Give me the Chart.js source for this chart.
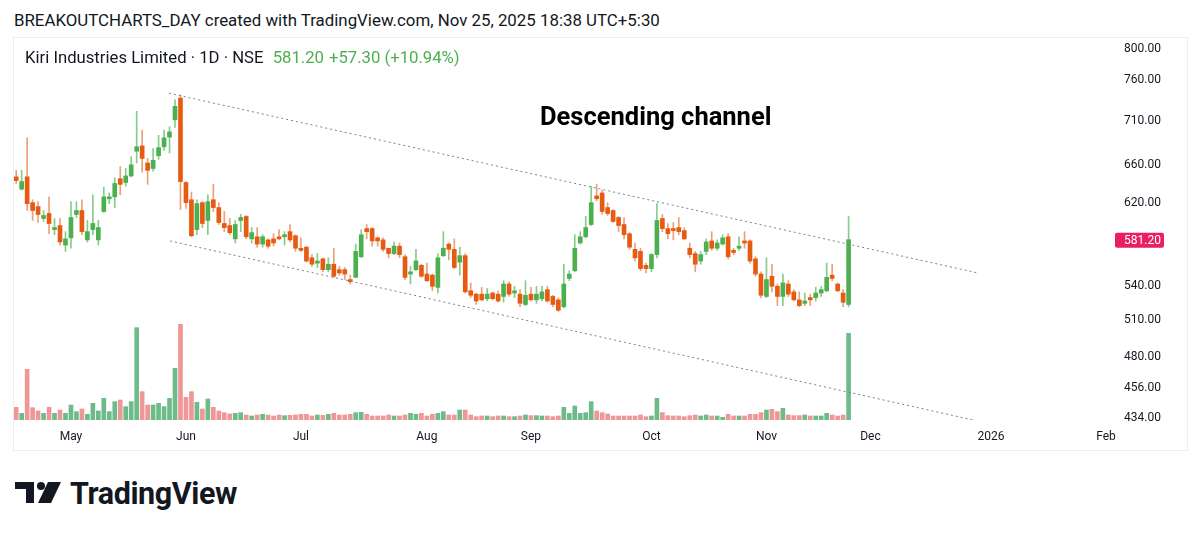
<!DOCTYPE html>
<html>
<head>
<meta charset="utf-8">
<script src="https://cdn.jsdelivr.net/npm/chart.js@4.4.0/dist/chart.umd.min.js"></script>
<style>
body { margin:0; width:1200px; height:535px; background:#fff; font-family:Roboto, sans-serif; color:#131722; overflow:hidden; position:relative; }
#head { position:absolute; left:14px; top:8px; font-size:16.85px; line-height:24px; white-space:nowrap; }
#frame { position:absolute; left:13px; top:37px; width:1175px; height:414px; border:1px solid #eceef2; box-sizing:border-box; }
#wrap { position:absolute; left:14px; top:38px; width:1173px; height:412px; }
#legend { position:absolute; left:25px; top:46px; font-size:16.7px; line-height:24px; white-space:nowrap; }
#legend .up { color:#4caf50; margin-left:5px; }
#note { position:absolute; left:540px; top:101px; font-size:25.5px; font-weight:bold; line-height:30px; color:#000; }
#logo { position:absolute; left:15px; top:480px; }
#logotext { position:absolute; left:70px; top:475px; font-size:30.5px; font-weight:bold; line-height:38px; color:#131722; letter-spacing:-0.4px; }
</style>
</head>
<body>
<div id="head">BREAKOUTCHARTS_DAY created with TradingView.com, Nov 25, 2025 18:38 UTC+5:30</div>
<div id="frame"></div>
<div id="wrap"><canvas id="chart" width="1173" height="412"></canvas></div>
<div id="legend">Kiri Industries Limited · 1D · NSE <span class="up">581.20</span><span class="up">+57.30 (+10.94%)</span></div>
<div id="note">Descending channel</div>
<svg id="logo" width="50" height="26" viewBox="0 0 50 26">
  <rect x="0" y="2" width="19" height="7" fill="#131722"/>
  <rect x="11" y="2" width="8" height="21" fill="#131722"/>
  <circle cx="26" cy="6" r="4" fill="#131722"/>
  <polygon points="33,2 46,2 36,23 23,23" fill="#131722"/>
</svg>
<div id="logotext">TradingView</div>
<script>
// daily candles, mid-April to 25 Nov 2025
var opens = [645,632,645,618,614,602,607,591,595,576,583,606,610,581,591,581,609,622,624,643,
  639,646,673,679,660,654,668,678,689,709,735,639,621,591,618,600,621,613,597,595,
  582,600,604,582,584,577,581,582,584,584,589,585,573,574,564,559,563,553,558,553,
  553,544,546,565,592,592,583,581,573,568,575,565,549,553,557,549,548,537,566,577,
  572,560,566,534,531,531,527,532,531,529,540,532,531,522,531,526,527,535,529,526,
  520,545,552,578,584,596,625,628,613,610,603,596,587,572,570,557,554,567,602,592,
  592,593,590,573,568,561,570,580,573,577,584,571,573,580,580,563,549,529,547,538,
  529,540,533,526,523,528,528,532,534,548,540,532,522];
var highs = [652,652,688,621,619,610,624,602,602,589,619,619,621,600,626,600,634,628,644,656,
  654,667,719,697,665,676,691,697,701,733,739,640,629,621,619,626,637,618,609,602,
  600,606,605,593,593,586,582,587,591,589,596,586,583,575,567,568,564,564,573,556,
  555,548,577,591,596,593,584,583,573,579,578,567,556,572,558,559,549,568,589,578,
  582,574,568,541,532,537,536,533,534,543,542,538,535,543,537,538,538,538,530,528,
  558,552,586,589,604,635,637,631,618,611,604,603,588,578,573,559,568,617,606,597,
  598,603,593,578,570,570,582,589,581,586,587,573,584,589,581,565,551,564,558,540,
  549,543,535,533,532,531,537,538,559,558,541,535,604];
var lows = [638,631,610,600,598,599,587,586,576,570,573,603,586,579,586,576,608,617,613,626,
  635,645,660,650,637,651,664,674,671,700,611,612,584,586,593,586,609,596,589,586,
  578,589,582,578,574,574,573,575,581,576,579,570,570,560,556,555,551,551,546,548,
  544,540,546,564,582,575,575,570,564,567,564,544,540,552,546,542,534,532,565,562,
  554,548,532,528,522,525,525,526,524,524,529,528,520,521,525,523,525,524,520,516,
  519,543,551,577,583,595,620,606,605,598,589,582,572,561,552,550,551,564,589,582,
  581,586,581,564,551,558,567,571,571,576,563,567,571,573,559,547,528,528,533,521,
  521,529,525,520,521,521,525,529,533,543,533,520,520];
var closes = [641,640,617,610,606,605,597,593,579,582,603,610,589,589,597,593,624,624,638,637,
  646,658,678,665,652,663,677,688,695,725,640,618,585,617,597,619,613,598,593,588,
  596,603,584,588,577,584,575,578,582,586,581,573,571,561,558,561,553,558,547,550,
  549,542,570,586,589,580,580,572,568,575,567,546,551,561,547,543,538,564,573,572,
  555,566,533,530,525,526,531,527,525,540,531,534,523,530,526,531,533,525,522,517,
  540,549,573,584,593,618,622,609,607,599,595,586,574,564,554,554,567,600,592,587,
  590,589,582,567,558,567,579,573,578,583,565,569,575,578,561,549,530,544,538,529,
  541,531,526,521,525,526,532,535,546,545,534,523.9,581.2];
// volume, thousands of shares
var volumes = [253,133,1013,247,180,133,253,133,200,133,300,167,220,113,333,180,433,167,367,400,
  267,367,1847,567,300,300,333,267,433,1033,1913,453,567,353,220,420,253,180,147,120,
  133,147,100,80,100,113,100,80,100,87,93,100,113,113,80,100,93,113,133,100,
  100,113,147,153,113,80,80,80,100,80,80,100,133,113,133,80,113,133,167,100,
  100,200,200,100,67,80,80,67,80,80,67,67,80,100,87,87,80,80,67,80,
  253,133,280,133,147,367,180,147,120,80,80,80,80,80,100,67,80,433,147,87,
  80,80,67,87,100,80,100,80,80,53,113,80,80,80,113,113,147,200,213,167,
  233,100,87,87,100,80,80,80,133,100,80,100,1733];

var monthTicks = [10,31,52,75,94,116,137,156,178,199];
var monthNames = ['May','Jun','Jul','Aug','Sep','Oct','Nov','Dec','2026','Feb'];
var priceTicks = [434,456,480,510,540,620,660,710,760,800];
var lastPrice = 581.20;
var channelUpper = [[27.9,741],[175.6,550]];
var channelLower = [[28.1,580],[175.1,430.7]];

var up = closes.map(function(c, i) { return c >= opens[i]; });

var priceTag = {
  id: 'priceTag',
  afterDraw: function(chart) {
    var ctx = chart.ctx, area = chart.chartArea;
    var y = chart.scales.y.getPixelForValue(lastPrice);
    ctx.save();
    ctx.fillStyle = '#e91e63';
    ctx.beginPath();
    ctx.roundRect(area.right + 3, y - 7, 49, 15, 2);
    ctx.fill();
    ctx.fillStyle = '#fff';
    ctx.font = '12px Roboto';
    ctx.textBaseline = 'middle';
    ctx.fillText(lastPrice.toFixed(2), area.right + 12, y + 1);
    ctx.restore();
  }
};

function channel(pts) {
  return {
    type: 'line',
    data: pts.map(function(p) { return {x: p[0], y: p[1]}; }),
    borderColor: '#7d8089',
    borderWidth: 1,
    borderDash: [2, 3],
    pointRadius: 0,
    order: 0
  };
}

var chart = new Chart(document.getElementById('chart').getContext('2d'), {
  type: 'bar',
  data: {
    datasets: [
      channel(channelUpper),
      channel(channelLower),
      {
        label: 'body',
        data: opens.map(function(o, i) { return {x: i, y: [o, closes[i]]}; }),
        backgroundColor: up.map(function(u) { return u ? '#4caf50' : '#e65a12'; }),
        barThickness: 4,
        grouped: false,
        order: 1
      },
      {
        label: 'wick',
        data: highs.map(function(h, i) { return {x: i, y: [lows[i], h]}; }),
        backgroundColor: up.map(function(u) { return u ? '#86cc8a' : '#eba07a'; }),
        barThickness: 1,
        grouped: false,
        order: 2
      },
      {
        label: 'volume',
        yAxisID: 'vol',
        data: volumes.map(function(v, i) { return {x: i, y: v}; }),
        backgroundColor: up.map(function(u) { return u ? '#6dbb8b' : '#ef9696'; }),
        barThickness: 4,
        grouped: false,
        order: 3
      }
    ]
  },
  options: {
    responsive: false,
    animation: false,
    devicePixelRatio: 1,
    layout: { padding: 0 },
    plugins: { legend: { display: false }, tooltip: { enabled: false } },
    scales: {
      x: {
        type: 'linear',
        min: -0.4,
        max: 200.1,
        offset: false,
        grid: { display: false, drawTicks: false },
        border: { display: false },
        afterBuildTicks: function(s) { s.ticks = monthTicks.map(function(v) { return {value: v}; }); },
        afterFit: function(s) { s.height = 30; s.paddingLeft = 0; s.paddingRight = 0; },
        ticks: {
          autoSkip: false, maxRotation: 0, padding: 10, color: '#131722',
          font: { family: 'Roboto', size: 12 },
          callback: function(v, i) { return monthNames[i]; }
        }
      },
      y: {
        type: 'logarithmic',
        position: 'right',
        min: 431,
        max: 812,
        grid: { display: false, drawTicks: false },
        border: { display: false },
        afterBuildTicks: function(s) { s.ticks = priceTicks.map(function(v) { return {value: v}; }); },
        afterFit: function(s) { s.width = 75; s.paddingTop = 0; s.paddingBottom = 0; },
        ticks: {
          autoSkip: false, padding: 12, labelOffset: 2, color: '#131722',
          font: { family: 'Roboto', size: 12 },
          callback: function(v) { return Number(v).toFixed(2); }
        }
      },
      vol: { type: 'linear', display: false, min: 0, max: 7640 }
    }
  },
  plugins: [priceTag]
});
</script>
</body>
</html>
